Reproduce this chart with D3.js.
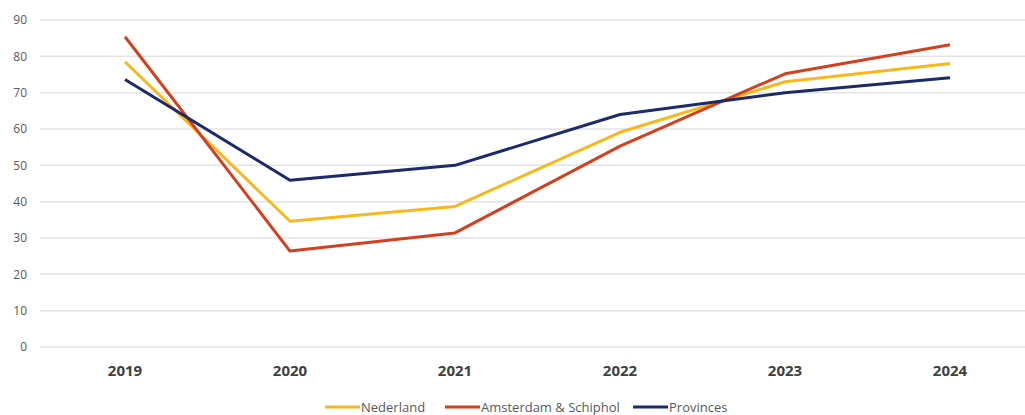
<!DOCTYPE html>
<meta charset="utf-8">
<style>
body { margin: 0; background: #fff; }
text { font-family: "Open Sans", "Liberation Sans", sans-serif; }
.grid line { stroke: #e3e3e3; stroke-width: 1.5px; }
.line { fill: none; stroke-width: 3px; stroke-linejoin: round; }
</style>
<body>
<div id="chart"></div>
<script src="https://cdn.jsdelivr.net/npm/d3@7"></script>
<script>

var years = ["2019", "2020", "2021", "2022", "2023", "2024"];
var nederland = [78.5, 34.6, 38.7, 59.1, 73.0, 78.0];
var amsterdam = [85.4, 26.4, 31.4, 55.3, 75.2, 83.2];
var provinces = [73.6, 45.9, 50.0, 64.0, 70.0, 74.1];
var yTicks = [0, 10, 20, 30, 40, 50, 60, 70, 80, 90];

var series = [
  { name: "Nederland", values: nederland, color: "#f7b81c" },
  { name: "Amsterdam & Schiphol", values: amsterdam, color: "#d2401f" },
  { name: "Provinces", values: provinces, color: "#1c2a6b" }
];

var w = 1025,
    h = 415;

var svg = d3.select("#chart").append("svg")
    .attr("width", w)
    .attr("height", h);

var x = d3.scalePoint()
    .domain(years)
    .range([125, 950]);

var y = d3.scaleLinear()
    .domain([0, 90])
    .range([347, 20]);

// horizontal gridlines
svg.append("g").attr("class", "grid")
  .selectAll("line")
    .data(yTicks)
  .enter().append("line")
    .attr("x1", 40)
    .attr("x2", w)
    .attr("y1", function(d) { return y(d); })
    .attr("y2", function(d) { return y(d); });

// y labels
svg.append("g")
  .selectAll("text")
    .data(yTicks)
  .enter().append("text")
    .attr("x", 27)
    .attr("y", function(d) { return y(d); })
    .attr("dy", "0.35em")
    .attr("text-anchor", "end")
    .style("font-size", "12px")
    .style("fill", "#595959")
    .text(function(d) { return d; });

// x labels
svg.append("g")
  .selectAll("text")
    .data(years)
  .enter().append("text")
    .attr("x", function(d) { return x(d); })
    .attr("y", 376)
    .attr("text-anchor", "middle")
    .style("font-size", "15px")
    .style("font-weight", "bold")
    .style("fill", "#404040")
    .text(function(d) { return d; });

var line = d3.line()
    .x(function(d, i) { return x(years[i]); })
    .y(function(d) { return y(d); });

svg.selectAll(".line")
    .data(series)
  .enter().append("path")
    .attr("class", "line")
    .attr("d", function(d) { return line(d.values); })
    .style("stroke", function(d) { return d.color; });

// legend
var legendX = [325, 445, 633];
var legend = svg.selectAll(".legend")
    .data(series)
  .enter().append("g")
    .attr("class", "legend")
    .attr("transform", function(d, i) { return "translate(" + legendX[i] + ",407)"; });

legend.append("line")
    .attr("x1", 0)
    .attr("x2", 35)
    .style("stroke", function(d) { return d.color; })
    .style("stroke-width", 3);

legend.append("text")
    .attr("x", 36)
    .attr("dy", "0.35em")
    .style("font-size", "13px")
    .style("fill", "#595959")
    .text(function(d) { return d.name; });

</script>
</body>
